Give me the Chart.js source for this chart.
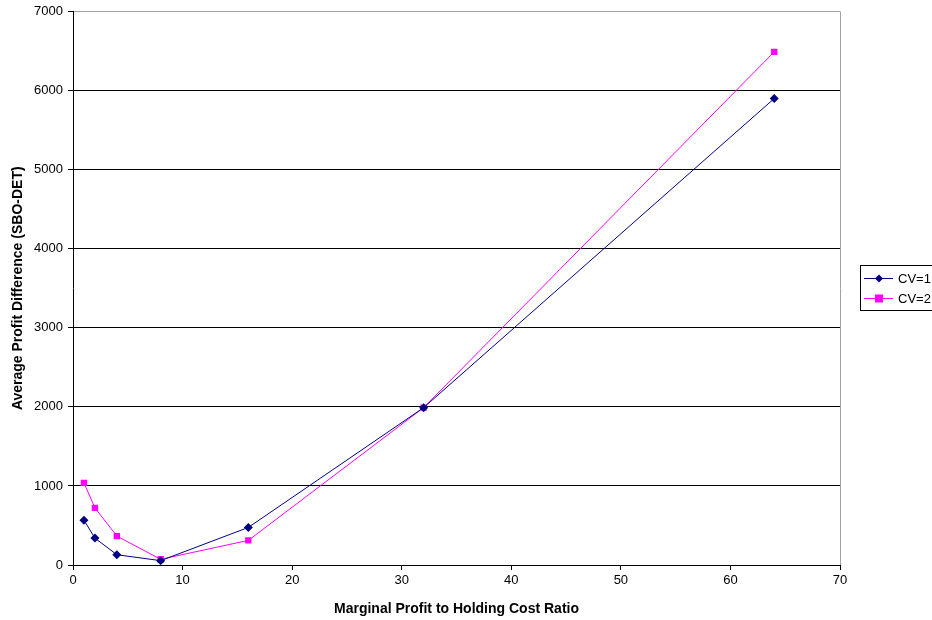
<!DOCTYPE html>
<html>
<head>
<meta charset="utf-8">
<script src="https://cdn.jsdelivr.net/npm/chart.js@4/dist/chart.umd.min.js"></script>
<style>
  html, body { margin: 0; padding: 0; background: #fff; }
  #wrap { position: relative; width: 932px; height: 620px; }
</style>
</head>
<body>
<div id="wrap"><canvas id="graphique" width="932" height="620"></canvas></div>
<script>
// ratio marginal profit / holding cost
const ratios = [1, 2, 4, 8, 16, 32, 64]
const cv1 = [567, 340, 130, 55, 475, 1990, 5900]
const cv2 = [1038, 723, 366, 72, 311, 1990, 6490]
const seriesNames = ["CV=1", "CV=2"]
const yTicks = [0, 1000, 2000, 3000, 4000, 5000, 6000, 7000]
const xTicks = [0, 10, 20, 30, 40, 50, 60, 70]

const fam = "'Liberation Sans', Arial, sans-serif"
const font = { family: fam, size: 13, lineHeight: 1 }

// legend box like the excel one (line + marker + label, black frame)
const boxLegend = {
    id: 'boxLegend',
    afterDraw(chart) {
        const ctx = chart.ctx
        const x = 860, y = 265, w = 80, h = 45
        ctx.save()
        ctx.strokeStyle = '#000'
        ctx.lineWidth = 1
        ctx.strokeRect(x + 0.5, y + 0.5, w, h)
        chart.data.datasets.forEach((ds, i) => {
            const ly = y + 13.5 + i * 20
            ctx.strokeStyle = ds.borderColor
            ctx.beginPath()
            ctx.moveTo(x + 4, ly)
            ctx.lineTo(x + 33, ly)
            ctx.stroke()
            ctx.fillStyle = ds.pointBackgroundColor
            ctx.beginPath()
            if (ds.pointStyle == 'rectRot') {
                ctx.moveTo(x + 19, ly - 4); ctx.lineTo(x + 23, ly)
                ctx.lineTo(x + 19, ly + 4); ctx.lineTo(x + 15, ly)
                ctx.closePath(); ctx.fill()
            } else {
                ctx.fillRect(x + 15, ly - 4, 8, 8)
            }
            ctx.fillStyle = '#000'
            ctx.font = "13px " + fam
            ctx.textBaseline = 'middle'
            ctx.fillText(ds.label, x + 38, ly + 1)
        })
        ctx.restore()
    }
}

const cvs = document.getElementById('graphique')
new Chart(cvs, {
    type: 'scatter',
    data: {
        datasets: [{
            label: seriesNames[0],
            data: ratios.map((r, i) => ({ x: r, y: cv1[i] })),
            showLine: true,
            borderColor: '#000080',
            borderWidth: 1,
            pointStyle: 'rectRot',
            pointRadius: 4.5,
            pointBackgroundColor: '#000080',
            pointBorderColor: '#000080',
            pointBorderWidth: 0
        }, {
            label: seriesNames[1],
            data: ratios.map((r, i) => ({ x: r, y: cv2[i] })),
            showLine: true,
            borderColor: '#ff00ff',
            borderWidth: 1,
            pointStyle: 'rect',
            pointRadius: 4.5,
            pointBackgroundColor: '#ff00ff',
            pointBorderColor: '#ff00ff',
            pointBorderWidth: 0
        }]
    },
    options: {
        responsive: false,
        animation: false,
        layout: { padding: { left: 0, right: 92, top: 10, bottom: 0 } },
        plugins: { legend: { display: false }, tooltip: { enabled: false } },
        scales: {
            x: {
                type: 'linear', min: 0, max: 70,
                afterBuildTicks: s => { s.ticks = xTicks.map(v => ({ value: v })) },
                afterFit: s => { s.height = 55 },
                grid: {
                    color: c => c.tick && c.tick.value == 70 ? '#a0a0a0' : 'rgba(0,0,0,0)',
                    tickColor: '#000', tickLength: 5, lineWidth: 1
                },
                border: { color: '#000', width: 1 },
                ticks: { color: '#000', font: font, padding: 4, maxRotation: 0, callback: v => String(v) },
                title: {
                    display: true, text: 'Marginal Profit to Holding Cost Ratio',
                    color: '#000', font: { family: fam, size: 14, weight: 'bold' },
                    padding: { top: 8, bottom: 2 }
                }
            },
            y: {
                min: 0, max: 7000,
                afterBuildTicks: s => { s.ticks = yTicks.map(v => ({ value: v })) },
                afterFit: s => { s.width = 73 },
                grid: {
                    color: c => c.tick && c.tick.value == 7000 ? '#a0a0a0' : '#000',
                    tickColor: '#000', tickLength: 5, lineWidth: 1
                },
                border: { color: '#000', width: 1 },
                ticks: { color: '#000', font: font, padding: 5, callback: v => String(v) },
                title: {
                    display: true, text: 'Average Profit Difference (SBO-DET)',
                    color: '#000', font: { family: fam, size: 14, weight: 'bold' },
                    padding: { top: 10, bottom: 6 }
                }
            }
        }
    },
    plugins: [boxLegend]
})
</script>
</body>
</html>
